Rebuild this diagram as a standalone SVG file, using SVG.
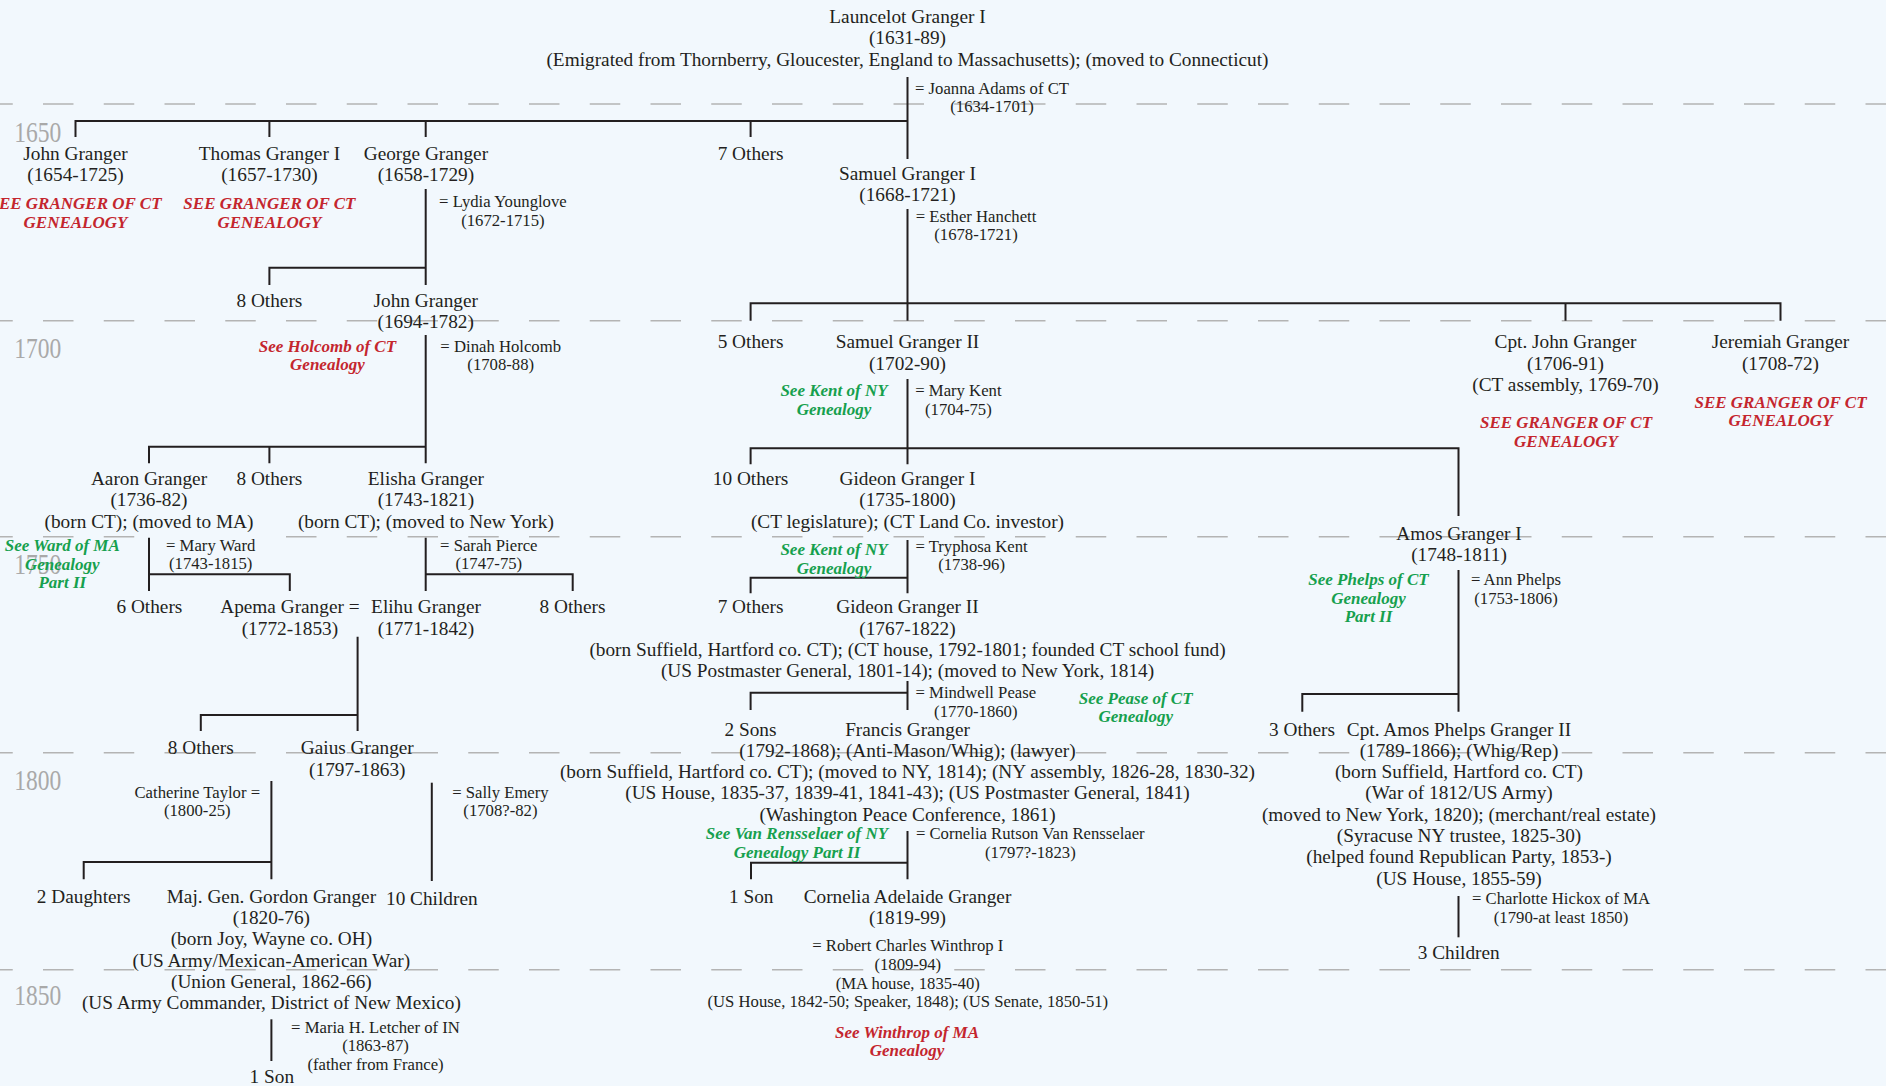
<svg xmlns="http://www.w3.org/2000/svg" width="1886" height="1086" viewBox="0 0 1886 1086">
<style>
text{font-family:"Liberation Serif","Times New Roman",serif;font-size:19.3px;fill:#231f20;text-anchor:middle}
text.s{font-size:16.7px}
text.r{font-size:17px;font-weight:bold;font-style:italic;fill:#c4262e}
text.g{font-size:17px;font-weight:bold;font-style:italic;fill:#16a04e}
text.yr{font-size:29px;fill:#a9a9a9;text-anchor:start}
.dash{stroke:#b4b4b4;stroke-width:1.5;stroke-dasharray:30.5 30.25;stroke-dashoffset:17.75;fill:none}
.ln{stroke:#231f20;stroke-width:2;fill:none}
.bg{fill:#f2f8fd}
</style>
<rect class="bg" width="1886" height="1086"/>
<g id="era-lines">
<path class="dash" d="M0 104H1886M0 320.7H1886M0 536.7H1886M0 752.7H1886M0 969.7H1886"/>
<text class="yr" x="14.3" y="141.5" textLength="47" lengthAdjust="spacingAndGlyphs">1650</text>
<text class="yr" x="14.3" y="357.5" textLength="47" lengthAdjust="spacingAndGlyphs">1700</text>
<text class="yr" x="14.3" y="573.5" textLength="47" lengthAdjust="spacingAndGlyphs">1750</text>
<text class="yr" x="14.3" y="790" textLength="47" lengthAdjust="spacingAndGlyphs">1800</text>
<text class="yr" x="14.3" y="1005" textLength="47" lengthAdjust="spacingAndGlyphs">1850</text>
</g>
<g id="connectors">
<path class="ln" d="M75.5 137V121H907.5M269.4 121V137M425.7 121V137M750.6 121V137M907.5 77V159"/>
<path class="ln" d="M425.7 189V285M269.4 285V267.7H425.7"/>
<path class="ln" d="M425.7 335V463.3M149 463.3V446.7H425.7M269.4 446.7V463.3"/>
<path class="ln" d="M149 537.7V591M149 574.3H289.8V591"/>
<path class="ln" d="M425.7 537.7V591M425.7 574.3H572.7V591"/>
<path class="ln" d="M357.6 636.7V731M200.8 731V715H357.6"/>
<path class="ln" d="M271.4 781V879.3M83.7 879.3V862H271.4"/>
<path class="ln" d="M431.8 782.7V881"/>
<path class="ln" d="M271.4 1019.3V1061"/>
<path class="ln" d="M907.5 209V320.7M750.6 320.7V303.3H1780.5V320.7M1565.5 303.3V320.7"/>
<path class="ln" d="M907.5 379V464.3M750.6 464.3V448.3H1458.5V516"/>
<path class="ln" d="M907.5 540V593.3M750.6 593.3V577.7H907.5"/>
<path class="ln" d="M907.5 681V710M750.6 710V692.7H907.5"/>
<path class="ln" d="M907.5 831V879.3M751 879.3V862.7H907.5"/>
<path class="ln" d="M1458.5 570V711.7M1302.3 711.7V694H1458.5"/>
<path class="ln" d="M1458.5 896V937.3"/>
</g>
<g id="launcelot">
<text x="907.5" y="23">Launcelot Granger I</text>
<text x="907.5" y="44.3">(1631-89)</text>
<text x="907.5" y="65.6">(Emigrated from Thornberry, Gloucester, England to Massachusetts); (moved to Connecticut)</text>
<text class="s" x="992" y="93.5">= Joanna Adams of CT</text>
<text class="s" x="992" y="112.3">(1634-1701)</text>
</g>
<g id="john-1654">
<text x="75.5" y="160">John Granger</text>
<text x="75.5" y="181.3">(1654-1725)</text>
<text class="r" x="75.5" y="209">SEE GRANGER OF CT</text>
<text class="r" x="75.5" y="227.5">GENEALOGY</text>
</g>
<g id="thomas">
<text x="269.4" y="160">Thomas Granger I</text>
<text x="269.4" y="181.3">(1657-1730)</text>
<text class="r" x="269.4" y="209">SEE GRANGER OF CT</text>
<text class="r" x="269.4" y="227.5">GENEALOGY</text>
</g>
<g id="george">
<text x="425.9" y="160">George Granger</text>
<text x="425.9" y="181.3">(1658-1729)</text>
<text class="s" x="502.9" y="207.3">= Lydia Younglove</text>
<text class="s" x="502.9" y="226">(1672-1715)</text>
</g>
<g id="others-7a"><text x="750.6" y="160">7 Others</text></g>
<g id="samuel-1">
<text x="907.5" y="180">Samuel Granger I</text>
<text x="907.5" y="201.3">(1668-1721)</text>
<text class="s" x="976" y="221.7">= Esther Hanchett</text>
<text class="s" x="976" y="240.3">(1678-1721)</text>
</g>
<g id="others-8a"><text x="269.4" y="306.7">8 Others</text></g>
<g id="john-1694">
<text x="425.7" y="306.7">John Granger</text>
<text x="425.7" y="328">(1694-1782)</text>
<text class="r" x="327.4" y="351.5">See Holcomb of CT</text>
<text class="r" x="327.4" y="370">Genealogy</text>
<text class="s" x="500.7" y="351.5">= Dinah Holcomb</text>
<text class="s" x="500.7" y="370">(1708-88)</text>
</g>
<g id="others-5"><text x="750.6" y="348.3">5 Others</text></g>
<g id="samuel-2">
<text x="907.5" y="348.3">Samuel Granger II</text>
<text x="907.5" y="369.6">(1702-90)</text>
<text class="g" x="834" y="396">See Kent of NY</text>
<text class="g" x="834" y="414.7">Genealogy</text>
<text class="s" x="958.4" y="396">= Mary Kent</text>
<text class="s" x="958.4" y="414.7">(1704-75)</text>
</g>
<g id="cpt-john">
<text x="1565.5" y="348.3">Cpt. John Granger</text>
<text x="1565.5" y="369.6">(1706-91)</text>
<text x="1565.5" y="390.9">(CT assembly, 1769-70)</text>
<text class="r" x="1566" y="428.3">SEE GRANGER OF CT</text>
<text class="r" x="1566" y="447">GENEALOGY</text>
</g>
<g id="jeremiah">
<text x="1780.5" y="348.3">Jeremiah Granger</text>
<text x="1780.5" y="369.6">(1708-72)</text>
<text class="r" x="1780.5" y="407.5">SEE GRANGER OF CT</text>
<text class="r" x="1780.5" y="426">GENEALOGY</text>
</g>
<g id="aaron">
<text x="149" y="485">Aaron Granger</text>
<text x="149" y="506.3">(1736-82)</text>
<text x="149" y="527.6">(born CT); (moved to MA)</text>
<text class="g" x="62.3" y="551">See Ward of MA</text>
<text class="g" x="62.3" y="569.5">Genealogy</text>
<text class="g" x="62.3" y="588">Part II</text>
<rect class="bg" x="164" y="533" width="94" height="7"/>
<text class="s" x="210.7" y="550.7">= Mary Ward</text>
<text class="s" x="210.7" y="569.4">(1743-1815)</text>
</g>
<g id="others-8b"><text x="269.4" y="485">8 Others</text></g>
<g id="elisha">
<text x="425.9" y="485">Elisha Granger</text>
<text x="425.9" y="506.3">(1743-1821)</text>
<text x="425.9" y="527.6">(born CT); (moved to New York)</text>
<text class="s" x="488.8" y="550.7">= Sarah Pierce</text>
<text class="s" x="488.8" y="569.4">(1747-75)</text>
</g>
<g id="others-10"><text x="750.6" y="485">10 Others</text></g>
<g id="gideon-1">
<text x="907.5" y="485">Gideon Granger I</text>
<text x="907.5" y="506.3">(1735-1800)</text>
<text x="907.5" y="527.6">(CT legislature); (CT Land Co. investor)</text>
<text class="g" x="834" y="555">See Kent of NY</text>
<text class="g" x="834" y="573.5">Genealogy</text>
<text class="s" x="971.6" y="551.7">= Tryphosa Kent</text>
<text class="s" x="971.6" y="570.4">(1738-96)</text>
</g>
<g id="amos-1">
<text x="1459" y="539.5">Amos Granger I</text>
<text x="1459" y="560.8">(1748-1811)</text>
<text class="g" x="1368.5" y="585">See Phelps of CT</text>
<text class="g" x="1368.5" y="603.5">Genealogy</text>
<text class="g" x="1368.5" y="622">Part II</text>
<text class="s" x="1516" y="585">= Ann Phelps</text>
<text class="s" x="1516" y="603.7">(1753-1806)</text>
</g>
<g id="others-6"><text x="149.4" y="613.3">6 Others</text></g>
<g id="apema">
<text x="289.9" y="613.3">Apema Granger =</text>
<text x="289.9" y="634.6">(1772-1853)</text>
</g>
<g id="elihu">
<text x="426" y="613.3">Elihu Granger</text>
<text x="426" y="634.6">(1771-1842)</text>
</g>
<g id="others-8c"><text x="572.5" y="613.3">8 Others</text></g>
<g id="others-7b"><text x="750.6" y="613.3">7 Others</text></g>
<g id="gideon-2">
<text x="907.5" y="613.3">Gideon Granger II</text>
<text x="907.5" y="634.6">(1767-1822)</text>
<text x="907.5" y="655.9">(born Suffield, Hartford co. CT); (CT house, 1792-1801; founded CT school fund)</text>
<text x="907.5" y="677.2">(US Postmaster General, 1801-14); (moved to New York, 1814)</text>
<text class="s" x="975.8" y="698.3">= Mindwell Pease</text>
<text class="s" x="975.8" y="717">(1770-1860)</text>
<text class="g" x="1135.7" y="703.5">See Pease of CT</text>
<text class="g" x="1135.7" y="722">Genealogy</text>
</g>
<g id="others-3"><text x="1302" y="735.5">3 Others</text></g>
<g id="amos-2">
<text x="1459" y="735.5">Cpt. Amos Phelps Granger II</text>
<text x="1459" y="756.8">(1789-1866); (Whig/Rep)</text>
<text x="1459" y="778.1">(born Suffield, Hartford co. CT)</text>
<text x="1459" y="799.4">(War of 1812/US Army)</text>
<text x="1459" y="820.7">(moved to New York, 1820); (merchant/real estate)</text>
<text x="1459" y="842">(Syracuse NY trustee, 1825-30)</text>
<text x="1459" y="863.3">(helped found Republican Party, 1853-)</text>
<text x="1459" y="884.6">(US House, 1855-59)</text>
<text class="s" x="1561" y="904">= Charlotte Hickox of MA</text>
<text class="s" x="1561" y="922.7">(1790-at least 1850)</text>
</g>
<g id="children-3"><text x="1458.7" y="959.3">3 Children</text></g>
<g id="sons-2"><text x="750.5" y="736">2 Sons</text></g>
<g id="francis">
<text x="907.5" y="735.5">Francis Granger</text>
<text x="907.5" y="756.8">(1792-1868); (Anti-Mason/Whig); (lawyer)</text>
<text x="907.5" y="778.1">(born Suffield, Hartford co. CT); (moved to NY, 1814); (NY assembly, 1826-28, 1830-32)</text>
<text x="907.5" y="799.4">(US House, 1835-37, 1839-41, 1841-43); (US Postmaster General, 1841)</text>
<text x="907.5" y="820.7">(Washington Peace Conference, 1861)</text>
<text class="g" x="797" y="839.3">See Van Rensselaer of NY</text>
<text class="g" x="797" y="858">Genealogy Part II</text>
<text class="s" x="1030.3" y="839.3">= Cornelia Rutson Van Rensselaer</text>
<text class="s" x="1030.3" y="858">(1797?-1823)</text>
</g>
<g id="son-1a"><text x="751.2" y="902.7">1 Son</text></g>
<g id="cornelia">
<text x="907.5" y="902.7">Cornelia Adelaide Granger</text>
<text x="907.5" y="924">(1819-99)</text>
<text class="s" x="907.8" y="951">= Robert Charles Winthrop I</text>
<text class="s" x="907.8" y="969.8">(1809-94)</text>
<text class="s" x="907.8" y="988.6">(MA house, 1835-40)</text>
<text class="s" x="907.8" y="1007.4">(US House, 1842-50; Speaker, 1848); (US Senate, 1850-51)</text>
<text class="r" x="907" y="1037.7">See Winthrop of MA</text>
<text class="r" x="907" y="1056">Genealogy</text>
</g>
<g id="others-8d"><text x="200.8" y="754.3">8 Others</text></g>
<g id="gaius">
<text x="357.3" y="754.3">Gaius Granger</text>
<text x="357.3" y="775.6">(1797-1863)</text>
<text class="s" x="197.3" y="797.7">Catherine Taylor =</text>
<text class="s" x="197.3" y="816.3">(1800-25)</text>
<text class="s" x="500.4" y="797.7">= Sally Emery</text>
<text class="s" x="500.4" y="816.3">(1708?-82)</text>
</g>
<g id="daughters-2"><text x="83.7" y="902.7">2 Daughters</text></g>
<g id="gordon">
<text x="271.4" y="902.7">Maj. Gen. Gordon Granger</text>
<text x="271.4" y="924">(1820-76)</text>
<text x="271.4" y="945.3">(born Joy, Wayne co. OH)</text>
<text x="271.4" y="966.6">(US Army/Mexican-American War)</text>
<text x="271.4" y="987.9">(Union General, 1862-66)</text>
<text x="271.4" y="1009.2">(US Army Commander, District of New Mexico)</text>
<text class="s" x="375.5" y="1032.7">= Maria H. Letcher of IN</text>
<text class="s" x="375.5" y="1051.4">(1863-87)</text>
<text class="s" x="375.5" y="1070">(father from France)</text>
</g>
<g id="children-10"><text x="431.8" y="904.5">10 Children</text></g>
<g id="son-1b"><text x="271.8" y="1082.7">1 Son</text></g>
</svg>
